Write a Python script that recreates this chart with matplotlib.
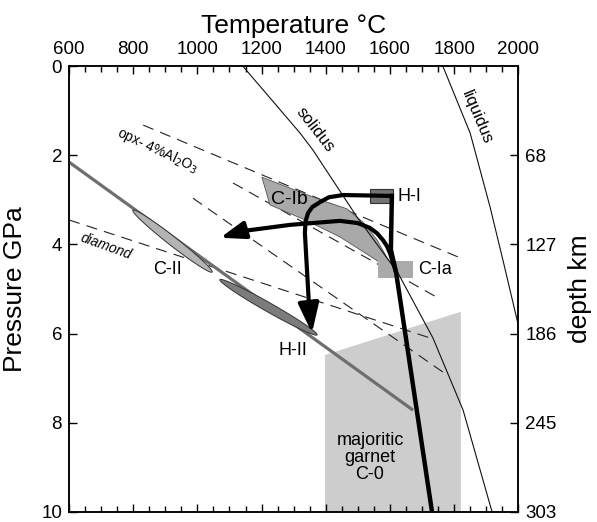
import numpy as np
import matplotlib
matplotlib.use("Agg")
import matplotlib.pyplot as plt
from matplotlib.patches import Polygon

plt.rcParams['font.family'] = ['Liberation Sans', 'DejaVu Sans']

# phase boundaries (T in C, P in GPa)
solidus_T = [1142, 1320, 1360, 1497, 1625, 1734, 1828, 1918]
solidus_P = [0.0, 1.50, 1.88, 3.38, 4.64, 6.10, 7.72, 10.0]
liquidus_T = [1765, 1850, 1912, 1952, 2000]
liquidus_P = [0.0, 1.50, 3.16, 4.35, 5.81]

# dashed lines: opx 4% Al2O3 isopleth, two other isopleths, diamond/graphite
opx_T, opx_P = [831, 1812], [1.32, 4.28]
iso1_T, iso1_P = [1111, 1740], [2.62, 5.16]
iso2_T, iso2_P = [986, 1778], [2.96, 6.93]
diamond_T, diamond_P = [600, 1734], [3.45, 6.12]

# thick gray geotherm
geo_T, geo_P = [600, 1672], [2.15, 7.72]

# fields
cib_T = [1201, 1391, 1466, 1516, 1560, 1616, 1444, 1342, 1226]
cib_P = [2.49, 3.02, 3.20, 3.50, 3.90, 4.62, 3.83, 3.47, 3.11]
hi_T, hi_P = [1538, 1610], [2.76, 3.07]
cia_T, cia_P = [1563, 1672], [4.37, 4.75]
garnet_T = [1398, 1821, 1821, 1398]
garnet_P = [6.48, 5.51, 10.0, 10.0]

# ellipses given by their end points
cii_ends = [(799, 3.23), (1046, 4.62)]
hii_ends = [(1070, 4.79), (1373, 6.03)]

# black paths
path1_T = [1606, 1454, 1410, 1382, 1358, 1345, 1337, 1335, 1348]
path1_P = [2.91, 2.89, 2.94, 3.05, 3.16, 3.29, 3.48, 3.74, 5.40]
path1_tip = (1357, 5.99)
path2_T = [1619, 1608, 1600, 1590, 1578, 1560, 1538, 1500, 1444, 1289, 1140]
path2_P = [4.62, 4.38, 4.19, 4.03, 3.90, 3.75, 3.63, 3.52, 3.47, 3.56, 3.70]
path2_tip = (1071, 3.85)
path3_T = [1606, 1603, 1619, 1731]
path3_P = [2.91, 4.12, 4.62, 10.0]

depth_ticks = [2, 4, 6, 8, 10]
depth_labels = ['68', '127', '186', '245', '303']

fig = plt.figure(figsize=(5.97, 5.22), dpi=100)
ax = fig.add_axes([0.1156, 0.0197, 0.7526, 0.8533])
ax.set_xlim(600, 2000)
ax.set_ylim(10, 0)

ax.fill(garnet_T, garnet_P, color='#cdcdcd', lw=0, zorder=1)

dash = (0, (10, 6.5))
for t, p in [(opx_T, opx_P), (iso1_T, iso1_P), (iso2_T, iso2_P), (diamond_T, diamond_P)]:
    ax.plot(t, p, color='#222222', lw=0.8, linestyle=dash, zorder=2)

ax.fill(cib_T, cib_P, facecolor='#a9a9a9', edgecolor='#555555', lw=0.6, zorder=3)
ax.fill([hi_T[0], hi_T[1], hi_T[1], hi_T[0]], [hi_P[0], hi_P[0], hi_P[1], hi_P[1]],
        facecolor='#747474', edgecolor='#333333', lw=0.8, zorder=3)
ax.fill([cia_T[0], cia_T[1], cia_T[1], cia_T[0]], [cia_P[0], cia_P[0], cia_P[1], cia_P[1]],
        facecolor='#aaaaaa', lw=0, zorder=3)

ax.plot(geo_T, geo_P, color='#6e6e6e', lw=2.3, solid_capstyle='butt', zorder=4)


def ellipse(ends, half_w, fc):
    a = ax.transData.transform(ends[0])
    b = ax.transData.transform(ends[1])
    c = (a + b) / 2
    u = (b - a) / 2
    v = np.array([-u[1], u[0]]) / np.hypot(*u) * half_w
    t = np.linspace(0, 2 * np.pi, 100)
    pts = c + np.outer(np.cos(t), u) + np.outer(np.sin(t), v)
    pts = ax.transData.inverted().transform(pts)
    ax.add_patch(Polygon(pts, closed=True, facecolor=fc, edgecolor='#333333', lw=0.7, zorder=5))


ellipse(cii_ends, 4.5, '#b4b4b4')
ellipse(hii_ends, 4.5, '#7c7c7c')

ax.plot(solidus_T, solidus_P, color='#111111', lw=0.8, zorder=6)
ax.plot(liquidus_T, liquidus_P, color='#111111', lw=0.8, zorder=6)

for t, p, tip, hl, hw in [(path1_T, path1_P, path1_tip, 18, 6.3),
                          (path2_T, path2_P, path2_tip, 15, 5.3)]:
    ax.plot(t, p, color='k', lw=3, solid_joinstyle='round', solid_capstyle='round', zorder=7)
    ax.annotate('', xy=tip, xytext=(t[-1], p[-1]),
                arrowprops=dict(arrowstyle=f'-|>,head_length={hl},head_width={hw}',
                                mutation_scale=1, lw=3, color='k',
                                shrinkA=0, shrinkB=0), zorder=7)
ax.plot(path3_T, path3_P, color='k', lw=3.2, solid_joinstyle='round', zorder=7)

# labels
ax.text(877, 1.88, 'opx- 4%Al$_2$O$_3$', rotation=-25, fontsize=10,
        ha='center', va='center', rotation_mode='anchor', zorder=8)
ax.text(715, 4.05, 'diamond', rotation=-20, fontsize=10, style='italic',
        ha='center', va='center', rotation_mode='anchor', zorder=8)
ax.text(1367, 1.43, 'solidus', rotation=-52, fontsize=12,
        ha='center', va='center', rotation_mode='anchor', zorder=8)
ax.text(1871, 1.14, 'liquidus', rotation=-67, fontsize=12,
        ha='center', va='center', rotation_mode='anchor', zorder=8)
ax.text(1286, 3.0, 'C-Ib', fontsize=14, ha='center', va='center', zorder=8)
ax.text(1625, 2.93, 'H-I', fontsize=13, ha='left', va='center', zorder=8)
ax.text(1687, 4.57, 'C-Ia', fontsize=13, ha='left', va='center', zorder=8)
ax.text(908, 4.57, 'C-II', fontsize=13, ha='center', va='center', zorder=8)
ax.text(1298, 6.39, 'H-II', fontsize=13, ha='center', va='center', zorder=8)
ax.text(1538, 8.79, 'majoritic\ngarnet\nC-0', fontsize=13, ha='center', va='center',
        linespacing=1.0, zorder=8)

# axes
ax.xaxis.set_ticks_position('both')
ax.xaxis.set_label_position('top')
ax.set_xticks(np.arange(600, 2001, 200))
ax.set_xticks(np.arange(600, 2001, 50), minor=True)
ax.tick_params(axis='x', which='both', direction='in', labeltop=True, labelbottom=False,
               labelsize=13.5, pad=6)
ax.tick_params(axis='x', which='major', length=6, width=1)
ax.tick_params(axis='x', which='minor', length=4, width=1)
ax.set_xlabel('Temperature \u00b0C', fontsize=19, labelpad=6)

ax.set_yticks([0, 2, 4, 6, 8, 10])
ax.tick_params(axis='y', direction='in', length=6, width=1, labelsize=13.5, pad=5, right=False)
ax.set_ylabel('Pressure GPa', fontsize=19, labelpad=10)

ax2 = ax.twinx()
ax2.set_ylim(10, 0)
ax2.set_yticks(depth_ticks)
ax2.set_yticklabels(depth_labels)
ax2.tick_params(axis='y', direction='in', length=6, width=1, labelsize=13.5, pad=5)
ax2.set_ylabel('depth km', fontsize=19, labelpad=8)

for a in (ax, ax2):
    for s in a.spines.values():
        s.set_linewidth(1.1)

fig.savefig('out.png', dpi=100)
